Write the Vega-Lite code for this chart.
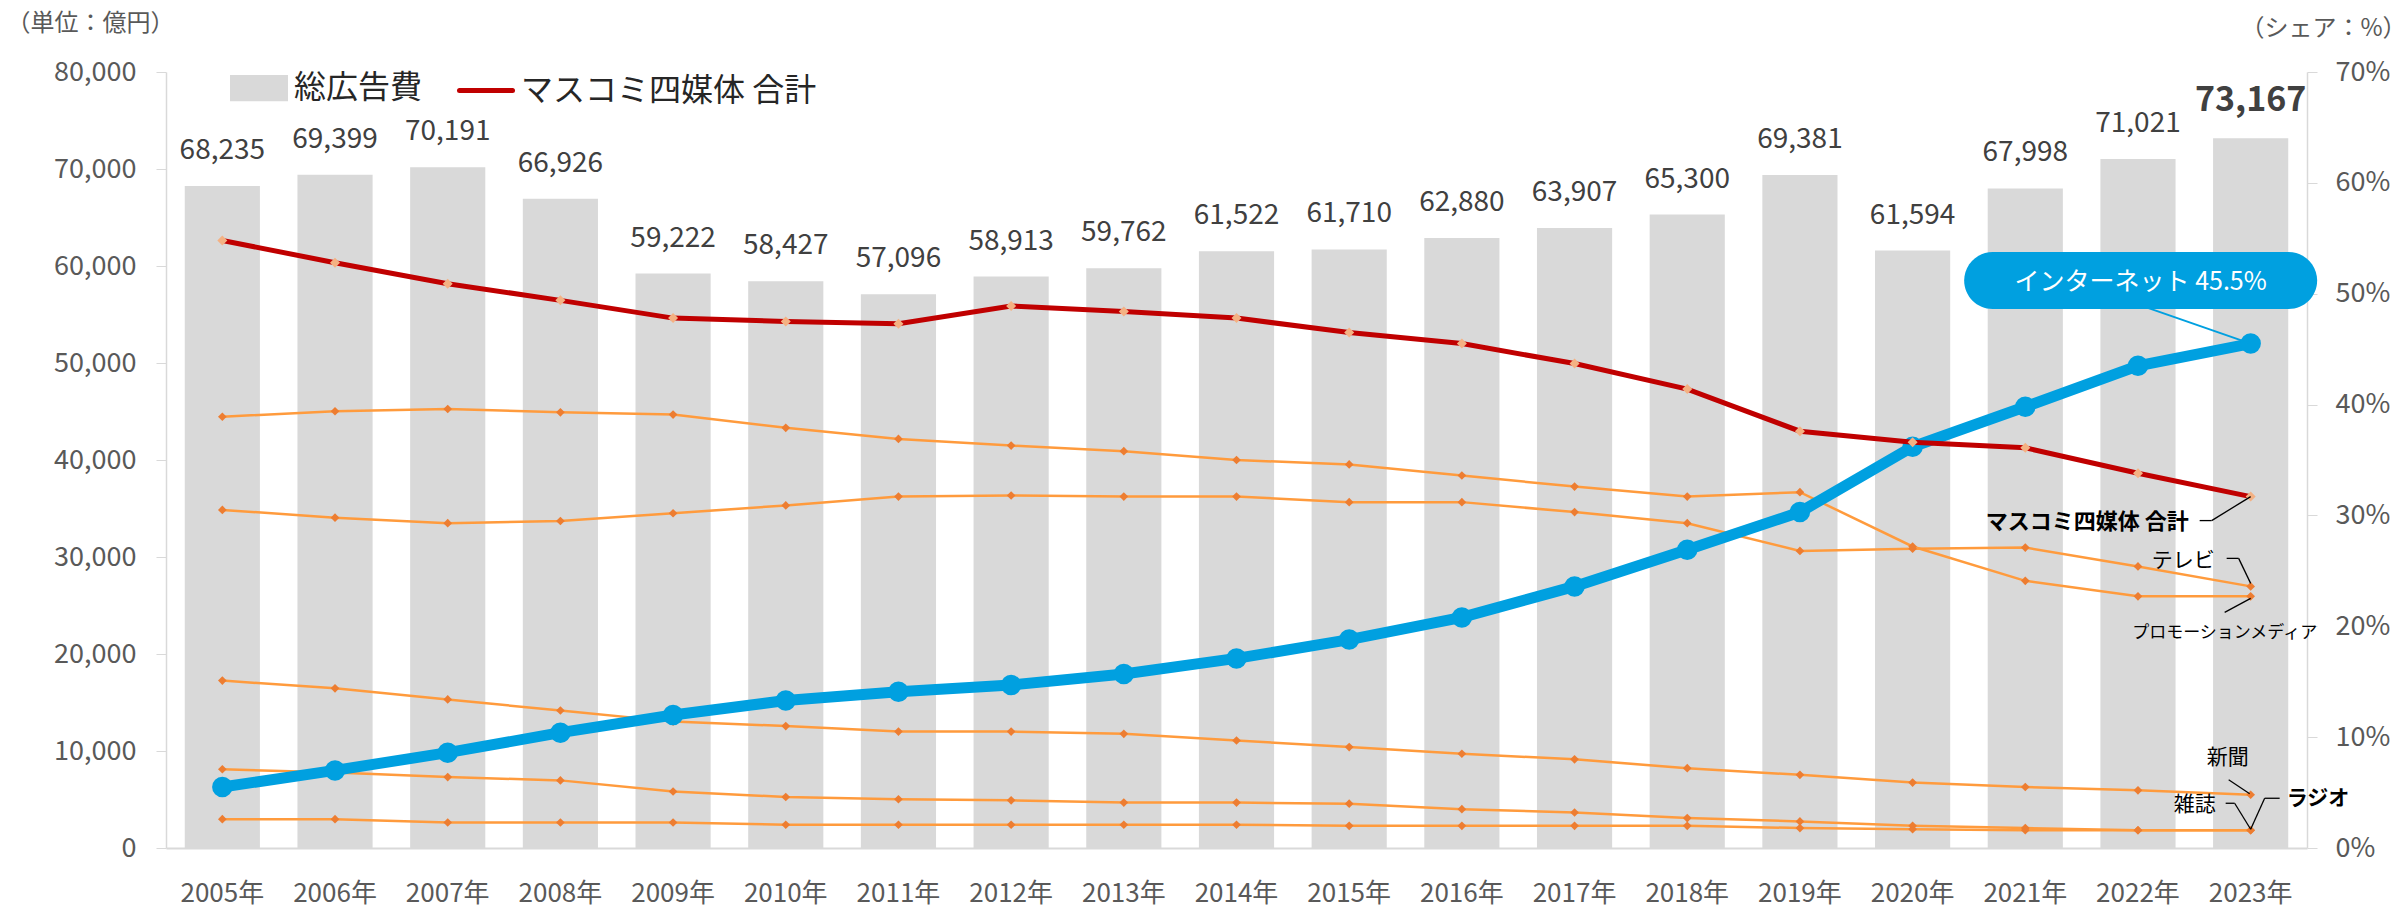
{
  "$schema": "https://vega.github.io/schema/vega-lite/v6.json",
  "width": 2141,
  "height": 776,
  "autosize": {"type": "none"},
  "padding": {"left": 166, "top": 72, "right": 100, "bottom": 66},
  "background": "white",
  "config": {"font": "Noto Sans CJK JP", "view": {"stroke": null}, "axis": {"grid": false}},
  "datasets": {
    "totals": [
      {"year": "2005年", "total": 68235}, {"year": "2006年", "total": 69399}, {"year": "2007年", "total": 70191},
      {"year": "2008年", "total": 66926}, {"year": "2009年", "total": 59222}, {"year": "2010年", "total": 58427},
      {"year": "2011年", "total": 57096}, {"year": "2012年", "total": 58913}, {"year": "2013年", "total": 59762},
      {"year": "2014年", "total": 61522}, {"year": "2015年", "total": 61710}, {"year": "2016年", "total": 62880},
      {"year": "2017年", "total": 63907}, {"year": "2018年", "total": 65300}, {"year": "2019年", "total": 69381},
      {"year": "2020年", "total": 61594}, {"year": "2021年", "total": 67998}, {"year": "2022年", "total": 71021},
      {"year": "2023年", "total": 73167}
    ],
    "shares": [
      {"year": "2005年", "series": "マスコミ四媒体 合計", "share": 54.8},
      {"year": "2006年", "series": "マスコミ四媒体 合計", "share": 52.8},
      {"year": "2007年", "series": "マスコミ四媒体 合計", "share": 50.9},
      {"year": "2008年", "series": "マスコミ四媒体 合計", "share": 49.4},
      {"year": "2009年", "series": "マスコミ四媒体 合計", "share": 47.8},
      {"year": "2010年", "series": "マスコミ四媒体 合計", "share": 47.5},
      {"year": "2011年", "series": "マスコミ四媒体 合計", "share": 47.3},
      {"year": "2012年", "series": "マスコミ四媒体 合計", "share": 48.9},
      {"year": "2013年", "series": "マスコミ四媒体 合計", "share": 48.4},
      {"year": "2014年", "series": "マスコミ四媒体 合計", "share": 47.8},
      {"year": "2015年", "series": "マスコミ四媒体 合計", "share": 46.5},
      {"year": "2016年", "series": "マスコミ四媒体 合計", "share": 45.5},
      {"year": "2017年", "series": "マスコミ四媒体 合計", "share": 43.7},
      {"year": "2018年", "series": "マスコミ四媒体 合計", "share": 41.4},
      {"year": "2019年", "series": "マスコミ四媒体 合計", "share": 37.6},
      {"year": "2020年", "series": "マスコミ四媒体 合計", "share": 36.6},
      {"year": "2021年", "series": "マスコミ四媒体 合計", "share": 36.1},
      {"year": "2022年", "series": "マスコミ四媒体 合計", "share": 33.8},
      {"year": "2023年", "series": "マスコミ四媒体 合計", "share": 31.7},
      {"year": "2005年", "series": "インターネット", "share": 5.5},
      {"year": "2006年", "series": "インターネット", "share": 7.0},
      {"year": "2007年", "series": "インターネット", "share": 8.6},
      {"year": "2008年", "series": "インターネット", "share": 10.4},
      {"year": "2009年", "series": "インターネット", "share": 12.0},
      {"year": "2010年", "series": "インターネット", "share": 13.3},
      {"year": "2011年", "series": "インターネット", "share": 14.1},
      {"year": "2012年", "series": "インターネット", "share": 14.7},
      {"year": "2013年", "series": "インターネット", "share": 15.7},
      {"year": "2014年", "series": "インターネット", "share": 17.1},
      {"year": "2015年", "series": "インターネット", "share": 18.8},
      {"year": "2016年", "series": "インターネット", "share": 20.8},
      {"year": "2017年", "series": "インターネット", "share": 23.6},
      {"year": "2018年", "series": "インターネット", "share": 26.9},
      {"year": "2019年", "series": "インターネット", "share": 30.3},
      {"year": "2020年", "series": "インターネット", "share": 36.2},
      {"year": "2021年", "series": "インターネット", "share": 39.8},
      {"year": "2022年", "series": "インターネット", "share": 43.5},
      {"year": "2023年", "series": "インターネット", "share": 45.5},
      {"year": "2005年", "series": "テレビ", "share": 30.5},
      {"year": "2006年", "series": "テレビ", "share": 29.8},
      {"year": "2007年", "series": "テレビ", "share": 29.3},
      {"year": "2008年", "series": "テレビ", "share": 29.5},
      {"year": "2009年", "series": "テレビ", "share": 30.2},
      {"year": "2010年", "series": "テレビ", "share": 30.9},
      {"year": "2011年", "series": "テレビ", "share": 31.7},
      {"year": "2012年", "series": "テレビ", "share": 31.8},
      {"year": "2013年", "series": "テレビ", "share": 31.7},
      {"year": "2014年", "series": "テレビ", "share": 31.7},
      {"year": "2015年", "series": "テレビ", "share": 31.2},
      {"year": "2016年", "series": "テレビ", "share": 31.2},
      {"year": "2017年", "series": "テレビ", "share": 30.3},
      {"year": "2018年", "series": "テレビ", "share": 29.3},
      {"year": "2019年", "series": "テレビ", "share": 26.8},
      {"year": "2020年", "series": "テレビ", "share": 27.0},
      {"year": "2021年", "series": "テレビ", "share": 27.1},
      {"year": "2022年", "series": "テレビ", "share": 25.4},
      {"year": "2023年", "series": "テレビ", "share": 23.6},
      {"year": "2005年", "series": "プロモーションメディア", "share": 38.9},
      {"year": "2006年", "series": "プロモーションメディア", "share": 39.4},
      {"year": "2007年", "series": "プロモーションメディア", "share": 39.6},
      {"year": "2008年", "series": "プロモーションメディア", "share": 39.3},
      {"year": "2009年", "series": "プロモーションメディア", "share": 39.1},
      {"year": "2010年", "series": "プロモーションメディア", "share": 37.9},
      {"year": "2011年", "series": "プロモーションメディア", "share": 36.9},
      {"year": "2012年", "series": "プロモーションメディア", "share": 36.3},
      {"year": "2013年", "series": "プロモーションメディア", "share": 35.8},
      {"year": "2014年", "series": "プロモーションメディア", "share": 35.0},
      {"year": "2015年", "series": "プロモーションメディア", "share": 34.6},
      {"year": "2016年", "series": "プロモーションメディア", "share": 33.6},
      {"year": "2017年", "series": "プロモーションメディア", "share": 32.6},
      {"year": "2018年", "series": "プロモーションメディア", "share": 31.7},
      {"year": "2019年", "series": "プロモーションメディア", "share": 32.1},
      {"year": "2020年", "series": "プロモーションメディア", "share": 27.2},
      {"year": "2021年", "series": "プロモーションメディア", "share": 24.1},
      {"year": "2022年", "series": "プロモーションメディア", "share": 22.7},
      {"year": "2023年", "series": "プロモーションメディア", "share": 22.7},
      {"year": "2005年", "series": "新聞", "share": 15.1},
      {"year": "2006年", "series": "新聞", "share": 14.4},
      {"year": "2007年", "series": "新聞", "share": 13.4},
      {"year": "2008年", "series": "新聞", "share": 12.4},
      {"year": "2009年", "series": "新聞", "share": 11.4},
      {"year": "2010年", "series": "新聞", "share": 11.0},
      {"year": "2011年", "series": "新聞", "share": 10.5},
      {"year": "2012年", "series": "新聞", "share": 10.5},
      {"year": "2013年", "series": "新聞", "share": 10.3},
      {"year": "2014年", "series": "新聞", "share": 9.7},
      {"year": "2015年", "series": "新聞", "share": 9.1},
      {"year": "2016年", "series": "新聞", "share": 8.5},
      {"year": "2017年", "series": "新聞", "share": 8.0},
      {"year": "2018年", "series": "新聞", "share": 7.2},
      {"year": "2019年", "series": "新聞", "share": 6.6},
      {"year": "2020年", "series": "新聞", "share": 5.9},
      {"year": "2021年", "series": "新聞", "share": 5.5},
      {"year": "2022年", "series": "新聞", "share": 5.2},
      {"year": "2023年", "series": "新聞", "share": 4.8},
      {"year": "2005年", "series": "雑誌", "share": 7.1},
      {"year": "2006年", "series": "雑誌", "share": 6.8},
      {"year": "2007年", "series": "雑誌", "share": 6.4},
      {"year": "2008年", "series": "雑誌", "share": 6.1},
      {"year": "2009年", "series": "雑誌", "share": 5.1},
      {"year": "2010年", "series": "雑誌", "share": 4.6},
      {"year": "2011年", "series": "雑誌", "share": 4.4},
      {"year": "2012年", "series": "雑誌", "share": 4.3},
      {"year": "2013年", "series": "雑誌", "share": 4.1},
      {"year": "2014年", "series": "雑誌", "share": 4.1},
      {"year": "2015年", "series": "雑誌", "share": 4.0},
      {"year": "2016年", "series": "雑誌", "share": 3.5},
      {"year": "2017年", "series": "雑誌", "share": 3.2},
      {"year": "2018年", "series": "雑誌", "share": 2.7},
      {"year": "2019年", "series": "雑誌", "share": 2.4},
      {"year": "2020年", "series": "雑誌", "share": 2.0},
      {"year": "2021年", "series": "雑誌", "share": 1.8},
      {"year": "2022年", "series": "雑誌", "share": 1.6},
      {"year": "2023年", "series": "雑誌", "share": 1.6},
      {"year": "2005年", "series": "ラジオ", "share": 2.6},
      {"year": "2006年", "series": "ラジオ", "share": 2.6},
      {"year": "2007年", "series": "ラジオ", "share": 2.3},
      {"year": "2008年", "series": "ラジオ", "share": 2.3},
      {"year": "2009年", "series": "ラジオ", "share": 2.3},
      {"year": "2010年", "series": "ラジオ", "share": 2.1},
      {"year": "2011年", "series": "ラジオ", "share": 2.1},
      {"year": "2012年", "series": "ラジオ", "share": 2.1},
      {"year": "2013年", "series": "ラジオ", "share": 2.1},
      {"year": "2014年", "series": "ラジオ", "share": 2.1},
      {"year": "2015年", "series": "ラジオ", "share": 2.0},
      {"year": "2016年", "series": "ラジオ", "share": 2.0},
      {"year": "2017年", "series": "ラジオ", "share": 2.0},
      {"year": "2018年", "series": "ラジオ", "share": 2.0},
      {"year": "2019年", "series": "ラジオ", "share": 1.8},
      {"year": "2020年", "series": "ラジオ", "share": 1.7},
      {"year": "2021年", "series": "ラジオ", "share": 1.6},
      {"year": "2022年", "series": "ラジオ", "share": 1.6},
      {"year": "2023年", "series": "ラジオ", "share": 1.6}
    ]
  },
  "encoding": {
    "x": {
      "field": "year", "type": "nominal",
      "scale": {"paddingInner": 0.333, "paddingOuter": 0.1665},
      "axis": {"title": null, "labelAngle": 0, "labelFontSize": 26, "labelColor": "#595959", "labelPadding": 32, "ticks": false, "domainColor": "#D9D9D9", "domainWidth": 2}
    }
  },
  "layer": [
    {
      "data": {"name": "totals"},
      "encoding": {
        "y": {
          "field": "total", "type": "quantitative",
          "scale": {"domain": [0, 80000]},
          "axis": {"orient": "left", "title": "（単位：億円）", "titleAngle": 0, "titleX": -76, "titleY": -49, "titleAlign": "center", "titleBaseline": "middle", "titleFontSize": 24, "titleFontWeight": "normal", "titleColor": "#595959", "values": [0, 10000, 20000, 30000, 40000, 50000, 60000, 70000, 80000], "format": ",d", "labelFontSize": 27, "labelColor": "#595959", "tickColor": "#D9D9D9", "tickSize": 10, "labelPadding": 20, "domainColor": "#D9D9D9", "domainWidth": 1.5}
        }
      },
      "layer": [
        {
          "mark": {"type": "bar"},
          "encoding": {
            "color": {
              "datum": "総広告費", "type": "nominal",
              "scale": {"domain": ["総広告費", "マスコミ四媒体 合計"], "range": ["#D9D9D9", "#C00000"]},
              "legend": {
                "orient": "none", "legendX": 64, "legendY": -13, "direction": "horizontal", "columns": 2, "title": null,
                "padding": 0, "labelFontSize": 32, "labelColor": "#262626", "labelOffset": 6, "labelLimit": 600, "columnPadding": 26, "symbolSize": 2809,
                "encode": {"symbols": {"update": {
                  "shape": {"signal": "datum.value === '総広告費' ? 'M-1,-0.4L1,-0.4L1,0.4L-1,0.4Z' : 'M-1,0L1,0'"},
                  "fill": {"signal": "datum.value === '総広告費' ? '#D9D9D9' : 'transparent'"},
                  "stroke": {"signal": "datum.value === '総広告費' ? 'transparent' : '#C00000'"},
                  "strokeWidth": {"value": 5},
                  "strokeCap": {"value": "round"},
                  "opacity": {"value": 1}
                }}}
              }
            }
          }
        },
        {
          "transform": [{"filter": "datum.year !== '2023年'"}],
          "mark": {"type": "text", "baseline": "alphabetic", "dy": -27, "color": "#404040", "fontSize": 28},
          "encoding": {"text": {"field": "total", "type": "quantitative", "format": ",d"}}
        },
        {
          "transform": [{"filter": "datum.year === '2023年'"}],
          "mark": {"type": "text", "baseline": "alphabetic", "dy": -27, "color": "#404040", "fontSize": 34, "fontWeight": "bold"},
          "encoding": {"text": {"field": "total", "type": "quantitative", "format": ",d"}}
        }
      ]
    },
    {
      "data": {"name": "shares"},
      "encoding": {
        "y": {
          "field": "share", "type": "quantitative", "scale": {"domain": [0, 70]},
          "axis": {"orient": "right", "title": "（シェア：%）", "titleAngle": 0, "titleX": 16, "titleY": -44, "titleAlign": "center", "titleBaseline": "middle", "titleFontSize": 24, "titleFontWeight": "normal", "titleColor": "#595959", "values": [0, 10, 20, 30, 40, 50, 60, 70], "labelExpr": "datum.value + '%'", "labelFontSize": 27, "labelColor": "#595959", "tickColor": "#D9D9D9", "tickSize": 10, "labelPadding": 18, "domainColor": "#D9D9D9", "domainWidth": 1.5}
        }
      },
      "layer": [
        {
          "transform": [{"filter": {"field": "series", "oneOf": ["テレビ", "プロモーションメディア", "新聞", "雑誌", "ラジオ"]}}],
          "mark": {"type": "line", "color": "#FF9B3D", "strokeWidth": 2.5},
          "encoding": {"detail": {"field": "series"}}
        },
        {
          "transform": [{"filter": {"field": "series", "oneOf": ["テレビ", "プロモーションメディア", "新聞", "雑誌", "ラジオ"]}}],
          "mark": {"type": "point", "shape": "diamond", "filled": true, "size": 75, "color": "#ED7D31", "opacity": 1}
        },
        {
          "transform": [{"filter": "datum.series === 'インターネット'"}],
          "mark": {"type": "line", "color": "#00A0E0", "strokeWidth": 11}
        },
        {
          "transform": [{"filter": "datum.series === 'インターネット'"}],
          "mark": {"type": "circle", "color": "#00A0E0", "size": 420, "opacity": 1}
        },
        {
          "transform": [{"filter": "datum.series === 'マスコミ四媒体 合計'"}],
          "mark": {"type": "line", "strokeWidth": 5},
          "encoding": {
            "color": {"datum": "マスコミ四媒体 合計", "type": "nominal", "scale": {"domain": ["総広告費", "マスコミ四媒体 合計"], "range": ["#D9D9D9", "#C00000"]}, "legend": null}
          }
        },
        {
          "transform": [{"filter": "datum.series === 'マスコミ四媒体 合計'"}],
          "mark": {"type": "point", "shape": "diamond", "filled": true, "size": 100, "color": "#F4B183", "opacity": 1}
        },
        {
          "transform": [{"filter": "datum.year === '2023年' && datum.series === 'マスコミ四媒体 合計'"}],
          "encoding": {"x2": {"field": "year"}, "y2": {"field": "share"}},
          "layer": [
            {"mark": {"type": "rule", "color": "#000000", "strokeWidth": 1.3, "xOffset": 0, "yOffset": 0, "x2Offset": -39, "y2Offset": 24}},
            {"mark": {"type": "rule", "color": "#000000", "strokeWidth": 1.3, "xOffset": -39, "yOffset": 24, "x2Offset": -51, "y2Offset": 24}},
            {"mark": {"type": "text", "text": "マスコミ四媒体 合計", "align": "right", "baseline": "middle", "dx": -62, "dy": 25, "fontSize": 22, "fontWeight": "bold", "color": "#000000"}}
          ]
        },
        {
          "transform": [{"filter": "datum.year === '2023年' && datum.series === 'テレビ'"}],
          "encoding": {"x2": {"field": "year"}, "y2": {"field": "share"}},
          "layer": [
            {"mark": {"type": "rule", "color": "#000000", "strokeWidth": 1.3, "xOffset": 0, "yOffset": -3, "x2Offset": -12, "y2Offset": -28}},
            {"mark": {"type": "rule", "color": "#000000", "strokeWidth": 1.3, "xOffset": -12, "yOffset": -28, "x2Offset": -24, "y2Offset": -28}},
            {"mark": {"type": "text", "text": "テレビ", "align": "right", "baseline": "middle", "dx": -36, "dy": -25, "fontSize": 21, "color": "#000000"}}
          ]
        },
        {
          "transform": [{"filter": "datum.year === '2023年' && datum.series === 'プロモーションメディア'"}],
          "encoding": {"x2": {"field": "year"}, "y2": {"field": "share"}},
          "layer": [
            {"mark": {"type": "rule", "color": "#000000", "strokeWidth": 1.3, "xOffset": 0, "yOffset": 2, "x2Offset": -26, "y2Offset": 16}},
            {"mark": {"type": "text", "text": "プロモーションメディア", "align": "center", "baseline": "middle", "dx": -26, "dy": 37, "fontSize": 17, "color": "#000000"}}
          ]
        },
        {
          "transform": [{"filter": "datum.year === '2023年' && datum.series === '新聞'"}],
          "encoding": {"x2": {"field": "year"}, "y2": {"field": "share"}},
          "layer": [
            {"mark": {"type": "rule", "color": "#000000", "strokeWidth": 1.3, "xOffset": -1, "yOffset": -1, "x2Offset": -22, "y2Offset": -15}},
            {"mark": {"type": "text", "text": "新聞", "align": "center", "baseline": "middle", "dx": -23, "dy": -37, "fontSize": 21, "color": "#000000"}}
          ]
        },
        {
          "transform": [{"filter": "datum.year === '2023年' && datum.series === '雑誌'"}],
          "encoding": {"x2": {"field": "year"}, "y2": {"field": "share"}},
          "layer": [
            {"mark": {"type": "rule", "color": "#000000", "strokeWidth": 1.3, "xOffset": 0, "yOffset": -1, "x2Offset": -16, "y2Offset": -27}},
            {"mark": {"type": "rule", "color": "#000000", "strokeWidth": 1.3, "xOffset": -16, "yOffset": -27, "x2Offset": -25, "y2Offset": -27}},
            {"mark": {"type": "text", "text": "雑誌", "align": "right", "baseline": "middle", "dx": -35, "dy": -25, "fontSize": 21, "color": "#000000"}}
          ]
        },
        {
          "transform": [{"filter": "datum.year === '2023年' && datum.series === 'ラジオ'"}],
          "encoding": {"x2": {"field": "year"}, "y2": {"field": "share"}},
          "layer": [
            {"mark": {"type": "rule", "color": "#000000", "strokeWidth": 1.3, "xOffset": 0, "yOffset": -1, "x2Offset": 14, "y2Offset": -32}},
            {"mark": {"type": "rule", "color": "#000000", "strokeWidth": 1.3, "xOffset": 14, "yOffset": -32, "x2Offset": 29, "y2Offset": -32}},
            {"mark": {"type": "text", "text": "ラジオ", "align": "left", "baseline": "middle", "dx": 36, "dy": -31, "fontSize": 21, "fontWeight": "bold", "color": "#000000"}}
          ]
        },
        {
          "transform": [{"filter": "datum.year === '2023年' && datum.series === 'インターネット'"}],
          "layer": [
            {
              "mark": {"type": "rule", "color": "#00A0E0", "strokeWidth": 2, "xOffset": 0, "yOffset": 0, "x2Offset": -115, "y2Offset": -40},
              "encoding": {"x2": {"field": "year"}, "y2": {"field": "share"}}
            },
            {"mark": {"type": "point", "shape": "M-0.8385,-0.1615L0.8385,-0.1615C0.9277,-0.1615,1,-0.0892,1,0C1,0.0892,0.9277,0.1615,0.8385,0.1615L-0.8385,0.1615C-0.9277,0.1615,-1,0.0892,-1,0C-1,-0.0892,-0.9277,-0.1615,-0.8385,-0.1615Z", "size": 124609, "filled": true, "color": "#00A0E0", "opacity": 1, "xOffset": -110, "yOffset": -63}},
            {"mark": {"type": "text", "text": "インターネット 45.5%", "align": "center", "baseline": "middle", "dx": -110, "dy": -62, "fontSize": 25, "color": "#FFFFFF"}}
          ]
        }
      ]
    }
  ],
  "resolve": {"scale": {"y": "independent"}}
}
